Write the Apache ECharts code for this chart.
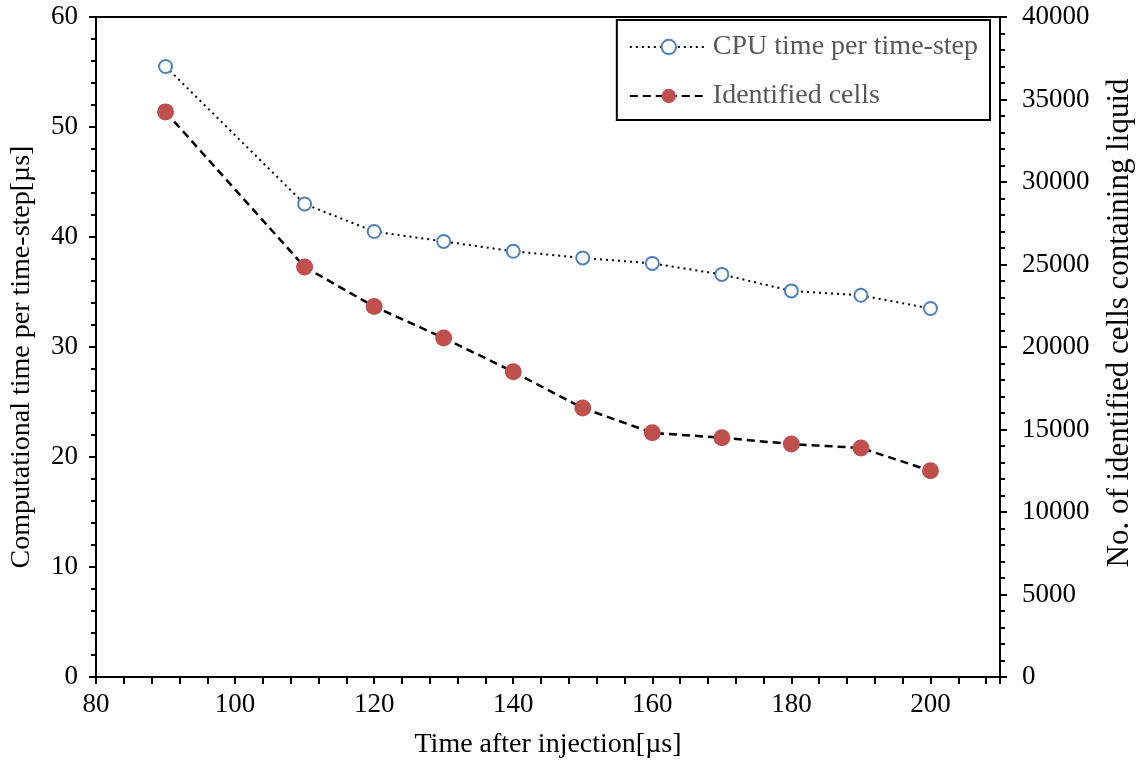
<!DOCTYPE html>
<html>
<head>
<meta charset="utf-8">
<script src="https://cdn.jsdelivr.net/npm/echarts@6/dist/echarts.min.js"></script>
<style>
  html, body { margin: 0; padding: 0; background: #fff; }
  #main { width: 1143px; height: 769px; }
</style>
</head>
<body>
<div id="main"></div>
<script>
// data
var times = [90, 110, 120, 130, 140, 150, 160, 170, 180, 190, 200];
var cpuTime = [55.5, 43.0, 40.5, 39.6, 38.7, 38.1, 37.6, 36.6, 35.1, 34.7, 33.5];
var cells = [34250, 24850, 22450, 20550, 18500, 16300, 14800, 14500, 14120, 13880, 12500];

var font = 'Liberation Serif';
var chart = echarts.init(document.getElementById('main'));

function pairs(ys) {
  return times.map(function (t, i) { return [t, ys[i]]; });
}

var option = {
  animation: false,
  textStyle: { fontFamily: font },
  grid: {
    left: 95, right: 143, top: 17, bottom: 92,
    show: true, borderColor: '#000', borderWidth: 2
  },
  legend: {
    right: 153, top: 20,
    orient: 'vertical',
    itemGap: 21,
    itemWidth: 78, itemHeight: 18,
    padding: [13, 12, 10, 12],
    borderColor: '#000', borderWidth: 2,
    textStyle: { fontFamily: font, fontSize: 28, color: '#595959' },
    data: ['CPU time per time-step', 'Identified cells']
  },
  xAxis: {
    type: 'value',
    min: 80, max: 210, interval: 20,
    name: 'Time after injection[µs]',
    nameLocation: 'middle', nameGap: 54,
    nameTextStyle: { fontFamily: font, fontSize: 28, color: '#000' },
    axisLine: { lineStyle: { color: '#000', width: 2 } },
    axisTick: { show: true, length: 7, lineStyle: { color: '#000', width: 2 } },
    minorTick: { show: true, splitNumber: 5, length: 7, lineStyle: { color: '#000', width: 2 } },
    axisLabel: { showMaxLabel: false, fontFamily: font, fontSize: 27, color: '#000', margin: 14 },
    splitLine: { show: false }
  },
  yAxis: [
    {
      type: 'value',
      min: 0, max: 60, interval: 10,
      name: 'Computational time per time-step[µs]',
      nameLocation: 'middle', nameGap: 60,
      nameTextStyle: { fontFamily: font, fontSize: 28, color: '#000', padding: [0, 20, 0, 0] },
      axisLine: { show: true, lineStyle: { color: '#000', width: 2 } },
      axisTick: { show: true, length: 7, lineStyle: { color: '#000', width: 2 } },
      minorTick: { show: true, splitNumber: 5, length: 5, lineStyle: { color: '#000', width: 2 } },
      axisLabel: { fontFamily: font, fontSize: 27, color: '#000', margin: 18 },
      splitLine: { show: false }
    },
    {
      type: 'value',
      min: 0, max: 40000, interval: 5000,
      position: 'right',
      name: 'No. of identified cells containing liquid',
      nameLocation: 'middle', nameGap: 104,
      nameRotate: 90,
      nameTextStyle: { fontFamily: font, fontSize: 31, color: '#000', padding: [0, 0, 0, 48] },
      axisLine: { show: true, lineStyle: { color: '#000', width: 2 } },
      axisTick: { show: true, length: 7, lineStyle: { color: '#000', width: 2 } },
      minorTick: { show: true, splitNumber: 5, length: 5, lineStyle: { color: '#000', width: 2 } },
      axisLabel: {
        fontFamily: font, fontSize: 27, color: '#000', margin: 22,
        formatter: function (v) { return String(v); }
      },
      splitLine: { show: false }
    }
  ],
  series: [
    {
      name: 'CPU time per time-step',
      type: 'line',
      yAxisIndex: 0,
      data: pairs(cpuTime),
      symbol: 'circle', symbolSize: 13,
      itemStyle: { color: '#fff', borderColor: '#4F81BD', borderWidth: 2 },
      lineStyle: { color: '#000', width: 2, type: [2, 4] },
      z: 3
    },
    {
      name: 'Identified cells',
      type: 'line',
      yAxisIndex: 1,
      data: pairs(cells),
      symbol: 'circle', symbolSize: 17,
      itemStyle: { color: '#C0504D', borderWidth: 0 },
      lineStyle: { color: '#000', width: 2.5, type: [8, 5] },
      z: 2
    }
  ]
};

chart.setOption(option);
window.addEventListener('resize', chart.resize);
</script>
</body>
</html>
